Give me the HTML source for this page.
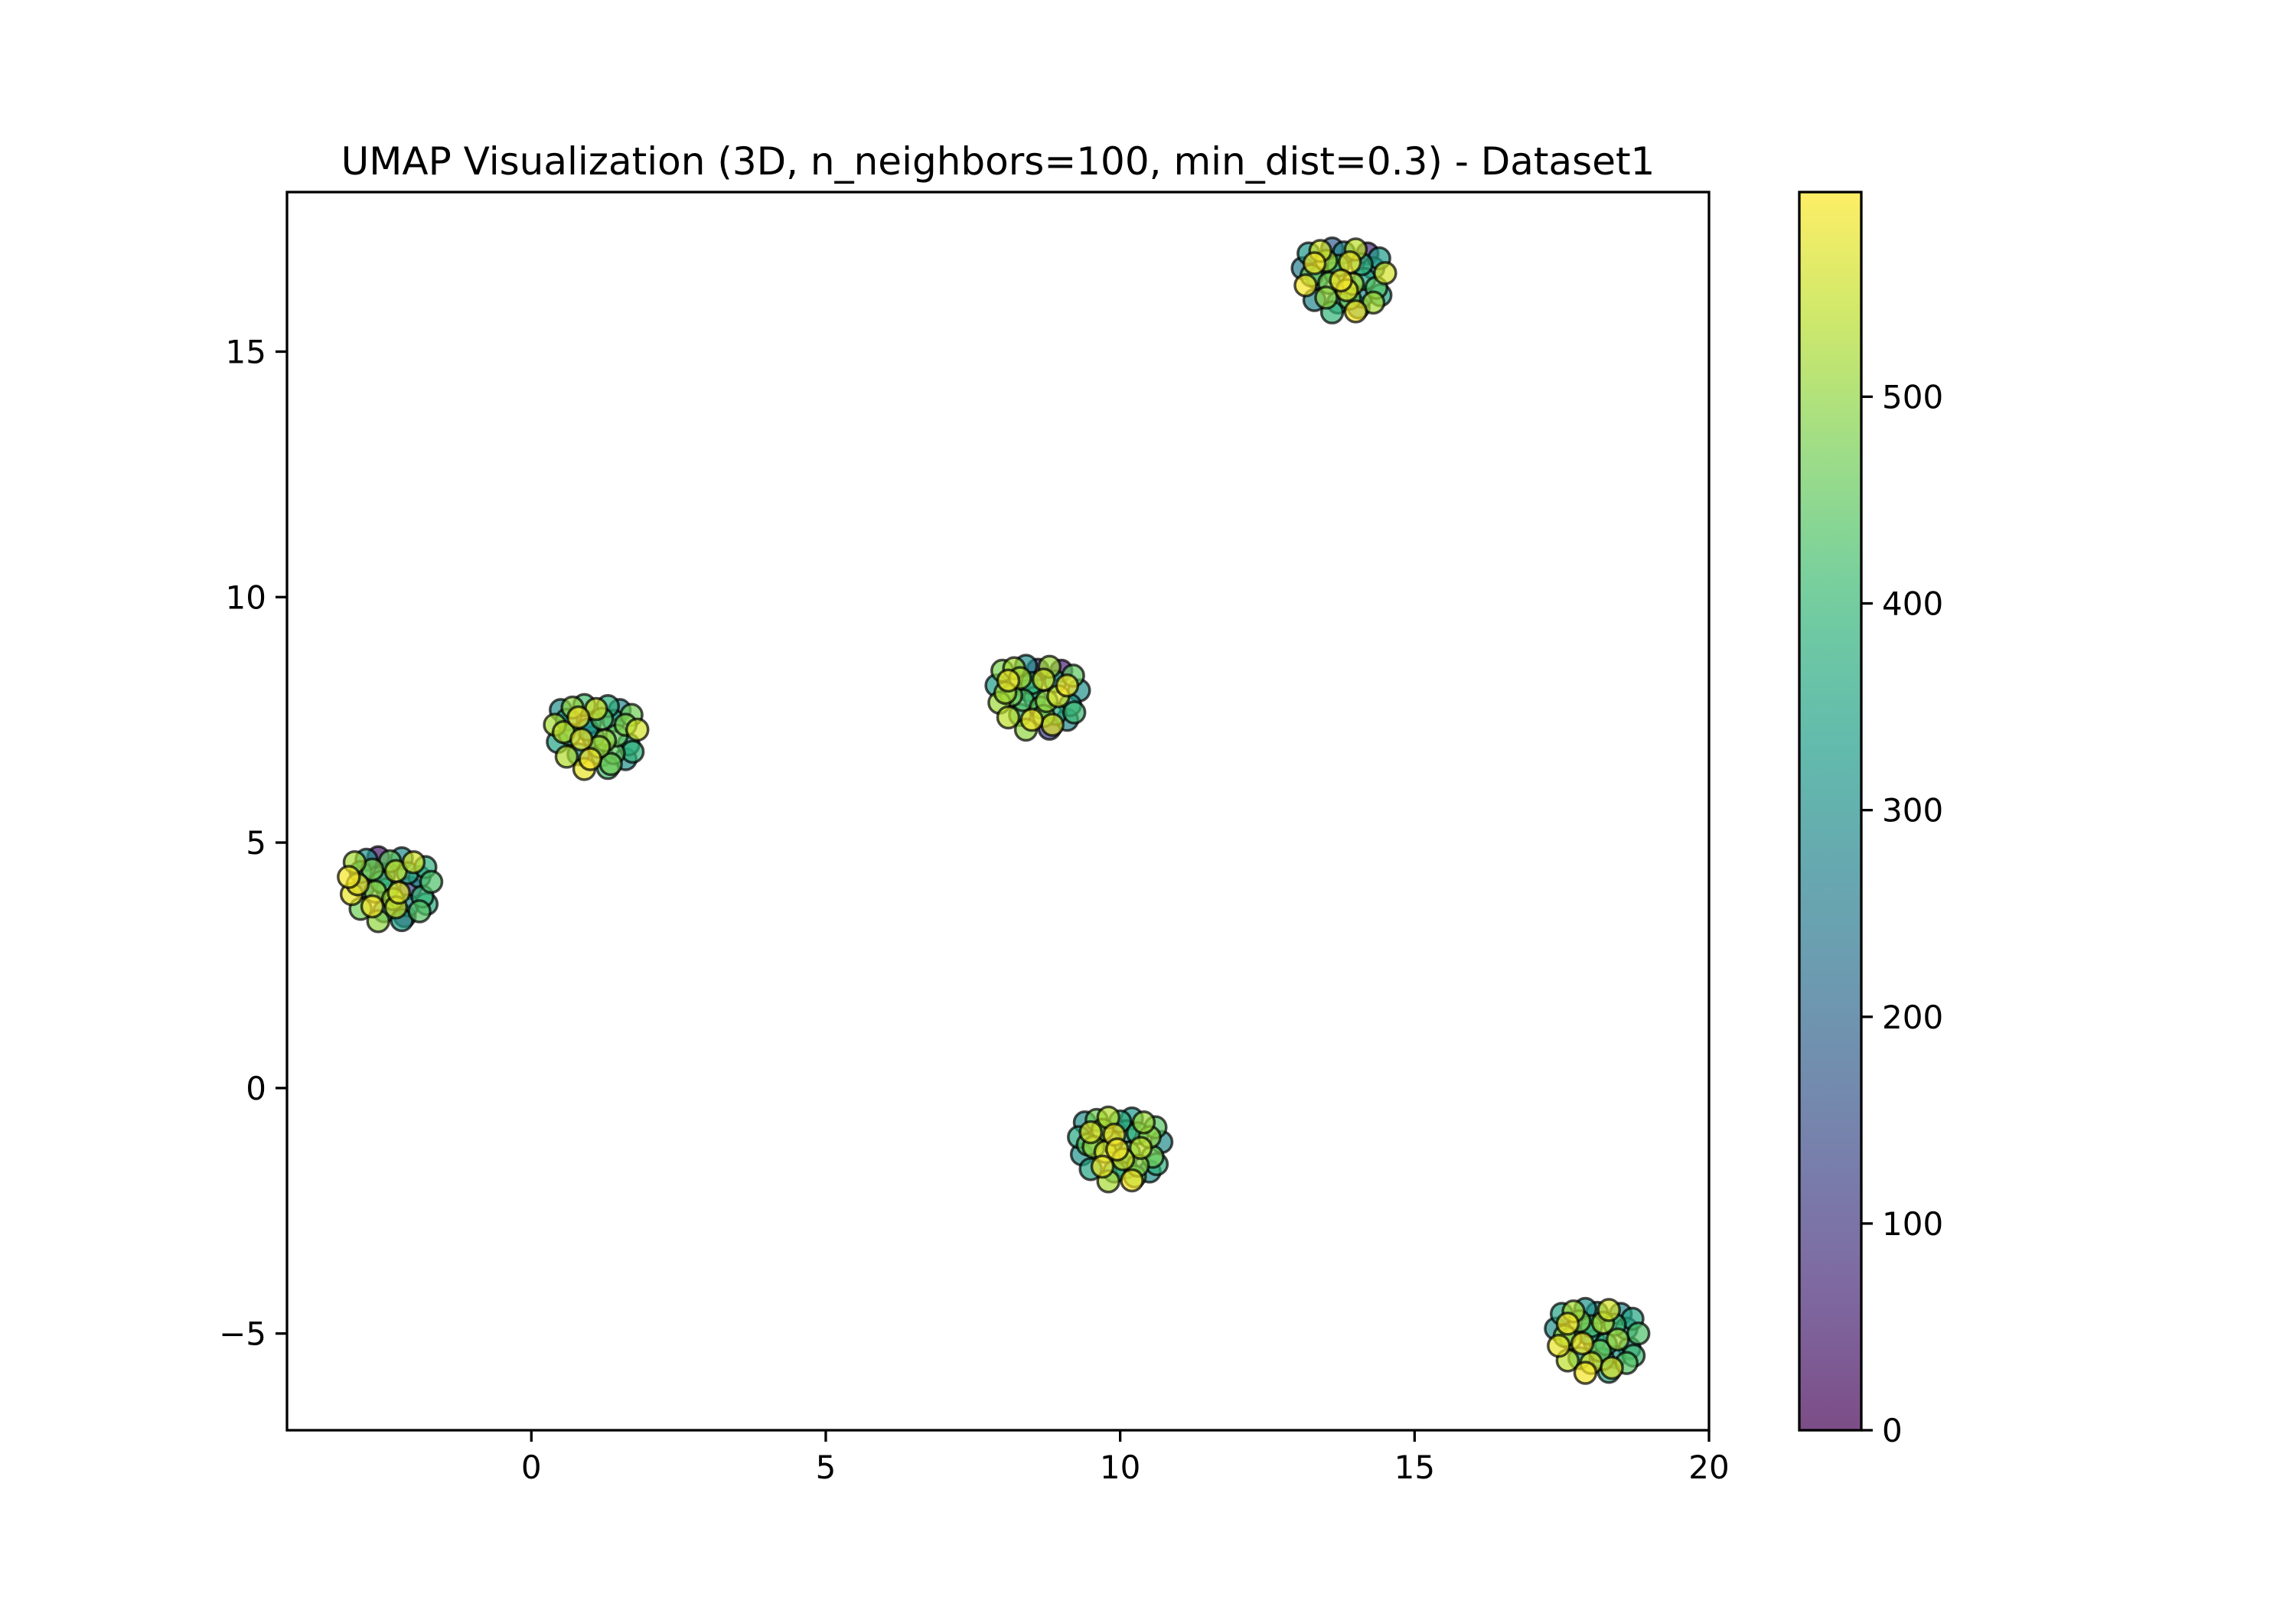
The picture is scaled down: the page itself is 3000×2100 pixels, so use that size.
<!DOCTYPE html>
<html><head><meta charset="utf-8"><style>
html,body{margin:0;padding:0;background:#fff;}
svg{display:block;font-family:"DejaVu Sans","Liberation Sans",sans-serif;}
</style></head><body>
<svg id="chart" width="3000" height="2100" viewBox="0 0 3000 2100">
<rect x="0" y="0" width="3000" height="2100" fill="#fff"/>
<text x="1304" y="228" font-size="50" text-anchor="middle" fill="#000">UMAP Visualization (3D, n_neighbors=100, min_dist=0.3) - Dataset1</text>
<g id="points"></g>
<g id="axes"></g>
<g id="cbar"></g>
</svg>
<script>
const clusterCx = [-2.4, 1.1, 8.6, 13.8, 10.0, 18.1];
const clusterCy = [4.0, 7.1, 7.9, 16.4, -1.3, -5.2];
const offsetDx = [-0.6,-0.4,-0.2,0,0.2,0.4,0.6,-0.7,-0.5,-0.3,-0.1,0.1,0.3,0.5,0.7,-0.65,-0.45,-0.25,-0.05,0.15,0.35,0.55,-0.5,-0.3,-0.1,0.1,0.3,0.5,-0.2,0.2,-0.55,0.62,0.05,-0.15,0.25];
const offsetDy = [0.6,0.65,0.7,0.62,0.68,0.6,0.5,0.3,0.4,0.45,0.35,0.42,0.38,0.3,0.2,-0.05,0.1,0,0.05,-0.02,0.08,-0.1,-0.35,-0.3,-0.4,-0.32,-0.28,-0.4,-0.6,-0.58,0.15,-0.25,-0.15,0.2,-0.5];
const clusterColors = [
 [520,310,40,450,290,560,380,590,330,480,210,540,360,300,430,580,260,500,350,570,120,400,470,590,320,550,280,440,500,340,580,370,520,410,60],
 [300,500,420,560,380,280,470,520,340,590,310,440,360,480,560,350,400,580,290,500,460,330,530,310,590,370,450,300,580,420,540,390,510,320,470],
 [480,520,300,90,510,60,450,330,580,520,400,560,370,590,300,510,470,430,380,500,560,330,540,420,590,480,360,280,500,120,520,410,460,350,570],
 [320,560,180,280,540,70,330,260,590,510,420,580,380,300,560,590,310,480,590,520,350,440,280,500,330,470,300,520,400,590,460,340,570,410,250],
 [300,470,530,380,320,510,440,360,570,480,590,320,400,500,290,310,500,560,590,420,540,470,350,580,400,330,490,300,520,590,450,380,560,420,470],
 [350,520,310,300,560,280,350,300,590,480,420,520,410,330,430,580,470,590,330,390,510,300,540,380,560,370,320,440,590,360,500,410,460,350,570]
];
const xTicks = [0,5,10,15,20];
const yTicks = [-5,0,5,10,15];
const cbarTicks = [0,100,200,300,400,500];

const X0=375,X1=2233,Y0=251,Y1=1869, xmin=-4.15,xmax=20,ymin=-6.97,ymax=18.25, vmin=0,vmax=599;
const sx=v=>X0+(v-xmin)/(xmax-xmin)*(X1-X0);
const sy=v=>Y1-(v-ymin)/(ymax-ymin)*(Y1-Y0);
const VIR=[[68,1,84],[72,40,120],[62,74,137],[49,104,142],[38,130,142],[31,158,137],[53,183,121],[109,205,89],[180,222,44],[253,231,37]];
function viridis(t){t=Math.max(0,Math.min(1,t));const p=t*(VIR.length-1),i=Math.min(VIR.length-2,Math.floor(p)),f=p-i;
 const c=VIR[i].map((a,k)=>Math.round(a+(VIR[i+1][k]-a)*f));return `rgb(${c[0]},${c[1]},${c[2]})`;}
const NS='http://www.w3.org/2000/svg';
function mk(tag,attrs,parent){const e=document.createElementNS(NS,tag);for(const k in attrs)e.setAttribute(k,attrs[k]);parent.appendChild(e);return e;}

const pts=[];
clusterCx.forEach((cx,ci)=>{offsetDx.forEach((dx,j)=>{pts.push({x:cx+dx,y:clusterCy[ci]+offsetDy[j],c:clusterColors[ci][j],ci:ci});});});
pts.sort((a,b)=>a.c-b.c);
const gp=document.getElementById('points');
pts.forEach(p=>{
 const e=mk('circle',{cx:sx(p.x),cy:sy(p.y),r:14,fill:viridis((p.c-vmin)/(vmax-vmin)),'fill-opacity':0.7,stroke:'#000','stroke-opacity':0.7,'stroke-width':3.5},gp);
 
 
});

const ga=document.getElementById('axes');
const fr=mk('rect',{x:X0,y:Y0,width:X1-X0,height:Y1-Y0,fill:'none',stroke:'#000','stroke-width':3.3},ga);


xTicks.forEach(v=>{
 const x=sx(v);
 mk('line',{x1:x,y1:Y1,x2:x,y2:Y1+15,stroke:'#000','stroke-width':3.3},ga);
 const t=mk('text',{x:x,y:Y1+63,'font-size':42,'text-anchor':'middle'},ga);
 t.textContent=v<0?'\u2212'+(-v):String(v);
 
 
});
yTicks.forEach(v=>{
 const y=sy(v);
 mk('line',{x1:X0,y1:y,x2:X0-15,y2:y,stroke:'#000','stroke-width':3.3},ga);
 const t=mk('text',{x:X0-27,y:y+15,'font-size':42,'text-anchor':'end'},ga);
 t.textContent=v<0?'\u2212'+(-v):String(v);
 
 
});

const gc=document.getElementById('cbar');
const CX0=2351,CX1=2432;
const defs=mk('defs',{},gc);
const lg=mk('linearGradient',{id:'vg',x1:0,y1:1,x2:0,y2:0},defs);
for(let i=0;i<=20;i++){mk('stop',{offset:i/20,'stop-color':viridis(i/20)},lg);}
const cr=mk('rect',{x:CX0,y:Y0,width:CX1-CX0,height:Y1-Y0,fill:'url(#vg)','fill-opacity':0.7},gc);


mk('rect',{x:CX0,y:Y0,width:CX1-CX0,height:Y1-Y0,fill:'none',stroke:'#000','stroke-width':3.3},gc);
cbarTicks.forEach(v=>{
 const y=Y1-(v-vmin)/(vmax-vmin)*(Y1-Y0);
 mk('line',{x1:CX1,y1:y,x2:CX1+15,y2:y,stroke:'#000','stroke-width':3.3},gc);
 const t=mk('text',{x:CX1+27,y:y+15,'font-size':42},gc);
 t.textContent=String(v);
 
 
});
</script>
</body></html>
